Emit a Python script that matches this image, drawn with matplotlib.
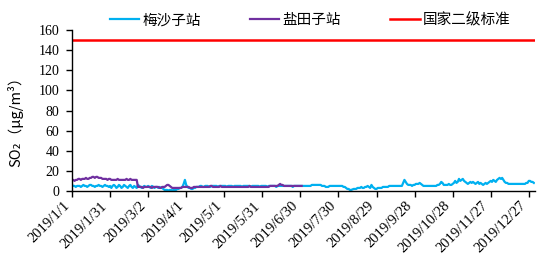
import matplotlib
matplotlib.use('Agg')
import matplotlib.pyplot as plt
import pandas as pd

# ======================
# DONNÉES (µg/m³, valeurs journalières 2019)
# ======================
meisha_jan = [6, 5, 5, 4, 5, 5, 5, 4, 5, 6, 5, 5, 4, 5, 6, 6, 5, 5, 4, 5, 5, 6, 5, 5, 4, 5, 6, 5, 5, 4, 5]
meisha_feb = [3, 5, 6, 5, 3, 4, 6, 5, 3, 4, 6, 5, 4, 3, 5, 6, 4, 3, 5, 4, 3, 6, 5, 4, 3, 4, 5, 4]
meisha_mar = [4, 5, 4, 3, 5, 4, 3, 4, 4, 3, 4, 3, 3, 2, 1, 1, 1, 0.5, 1, 1, 0.5, 1, 1, 1, 2, 2, 3, 3, 4, 7, 11]
meisha_apr = [6, 4, 3, 3, 2, 2, 3, 3, 4, 4, 4, 5, 5, 4, 4, 5, 5, 5, 4, 4, 5, 5, 5, 5, 5, 4, 5, 5, 5, 5]
meisha_may = [5, 5, 4, 5, 5, 5, 5, 4, 5, 5, 5, 5, 5, 5, 4, 5, 5, 5, 5, 5, 5, 4, 5, 5, 5, 5, 5, 5, 4, 5, 5]
meisha_jun = [5, 5, 5, 4, 5, 5, 5, 5, 5, 5, 4, 5, 5, 5, 5, 5, 5, 5, 5, 5, 5, 5, 5, 4, 5, 5, 5, 5, 5, 5]
meisha_jul = [5, 5, 5, 5, 5, 5, 5, 5, 6, 6, 6, 6, 6, 6, 6, 6, 5, 5, 5, 4, 4, 4, 5, 5, 5, 5, 5, 5, 5, 5, 5]
meisha_aug = [5, 5, 4, 4, 3, 2, 2, 1, 1, 1.5, 2, 2, 2, 3, 3, 3, 4, 3, 3, 4, 4, 5, 4, 3, 6, 4, 3, 2, 2, 3, 3]
meisha_sep = [3, 3, 4, 4, 4, 4, 4, 5, 5, 5, 5, 5, 5, 5, 5, 5, 5, 5, 8, 11, 9, 7, 6, 6, 6, 5, 6, 6, 7, 7]
meisha_oct = [7, 8, 7, 6, 5, 5, 5, 5, 5, 5, 5, 5, 5, 5, 5, 6, 6, 7, 9, 8, 6, 6, 6, 6, 7, 6, 6, 7, 8, 10, 8]
meisha_nov = [9, 12, 10, 11, 12, 10, 9, 8, 7, 8, 9, 8, 9, 8, 7, 8, 9, 7, 8, 7, 6, 7, 8, 7, 8, 9, 10, 9, 11, 10]
meisha_dec = [9, 11, 12, 13, 12, 13, 11, 9, 8, 8, 7, 7, 7, 7, 7, 7, 7, 7, 7, 7, 7, 7, 7, 7, 8, 8, 10, 10, 9, 9, 8]

yantian_jan = [11, 11, 10, 11, 11, 12, 12, 11, 12, 12, 12, 13, 12, 12, 13, 13, 14, 14, 13, 14, 14, 13, 13, 13, 12, 12, 12, 12, 11, 12, 12]
yantian_feb = [11, 11, 11, 11, 11, 12, 11, 11, 11, 11, 11, 11, 12, 11, 11, 12, 11, 11, 11, 11, 11, 4, 4, 4, 4, 3, 4, 4]
yantian_mar = [4, 4, 4, 4, 3, 4, 4, 4, 4, 4, 3, 3, 4, 4, 4, 5, 6, 6, 5, 4, 3, 3, 3, 3, 3, 3, 3, 3, 4, 4, 4]
yantian_apr = [4, 4, 4, 3, 3, 3, 4, 4, 4, 4, 4, 4, 4, 4, 4, 4, 4, 4, 4, 5, 5, 4, 4, 4, 4, 4, 4, 5, 4, 4]
yantian_may = [4, 4, 4, 4, 4, 4, 4, 4, 4, 4, 4, 4, 4, 4, 4, 4, 4, 4, 4, 4, 5, 4, 4, 4, 4, 4, 4, 4, 4, 4, 4]
yantian_jun = [4, 4, 4, 4, 4, 5, 5, 5, 5, 5, 5, 5, 6, 7, 6, 6, 5, 5, 5, 5, 5, 5, 5, 5, 5, 5, 5, 5, 5, 5]
yantian_jul = [5]

standard = 150  # 国家二级标准

meisha = (meisha_jan + meisha_feb + meisha_mar + meisha_apr + meisha_may + meisha_jun
          + meisha_jul + meisha_aug + meisha_sep + meisha_oct + meisha_nov + meisha_dec)
yantian = (yantian_jan + yantian_feb + yantian_mar + yantian_apr + yantian_may
           + yantian_jun + yantian_jul)

labels = ['梅沙子站', '盐田子站', '国家二级标准']
tick_dates = pd.date_range('2019-01-01', periods=13, freq='30D')
yticks = list(range(0, 161, 20))

# ======================
# FIGURE
# ======================
cjk = ['Noto Sans CJK SC', 'DejaVu Sans']
serif = ['Liberation Serif', 'DejaVu Serif']

fig = plt.figure(figsize=(5.58, 2.57), dpi=100)
ax = fig.add_axes([0.129, 0.257, 0.830, 0.626])

d_meisha = pd.date_range('2019-01-01', periods=len(meisha), freq='D')
d_yantian = pd.date_range('2019-01-01', periods=len(yantian), freq='D')

l1, = ax.plot(d_meisha, meisha, color='#00B0F0', lw=1.6, label=labels[0])
l2, = ax.plot(d_yantian, yantian, color='#7030A0', lw=1.6, label=labels[1])
l3 = ax.axhline(standard, color='#FF0000', lw=1.8, label=labels[2])

ax.set_xlim(pd.Timestamp('2019-01-01'), pd.Timestamp('2020-01-01'))
ax.set_ylim(0, 160)
ax.set_yticks(yticks)
ax.set_xticks(tick_dates)
ax.set_xticklabels([f'{d.year}/{d.month}/{d.day}' for d in tick_dates],
                   rotation=45, ha='right', va='top', fontfamily=serif, fontsize=10.5)
for lab in ax.get_yticklabels():
    lab.set_fontfamily(serif)
    lab.set_fontsize(10)

for s in ['top', 'right']:
    ax.spines[s].set_visible(False)
for s in ['left', 'bottom']:
    ax.spines[s].set_linewidth(1.0)
ax.tick_params(axis='both', direction='out', length=4, width=1.0, pad=2)
ax.tick_params(axis='y', pad=5)

ax.set_ylabel('SO₂（μg/m³）', fontfamily=cjk, fontsize=10.5)
ax.yaxis.set_label_coords(-0.105, 0.45)

fig.legend(handles=[l1, l2, l3], labels=labels, loc='center', ncol=3,
           bbox_to_anchor=(0.556, 0.922), frameon=False,
           prop={'family': cjk, 'size': 10.5}, handlelength=2.0,
           handletextpad=0.2, columnspacing=3.4, borderaxespad=0)

fig.savefig('out.png', dpi=100)
